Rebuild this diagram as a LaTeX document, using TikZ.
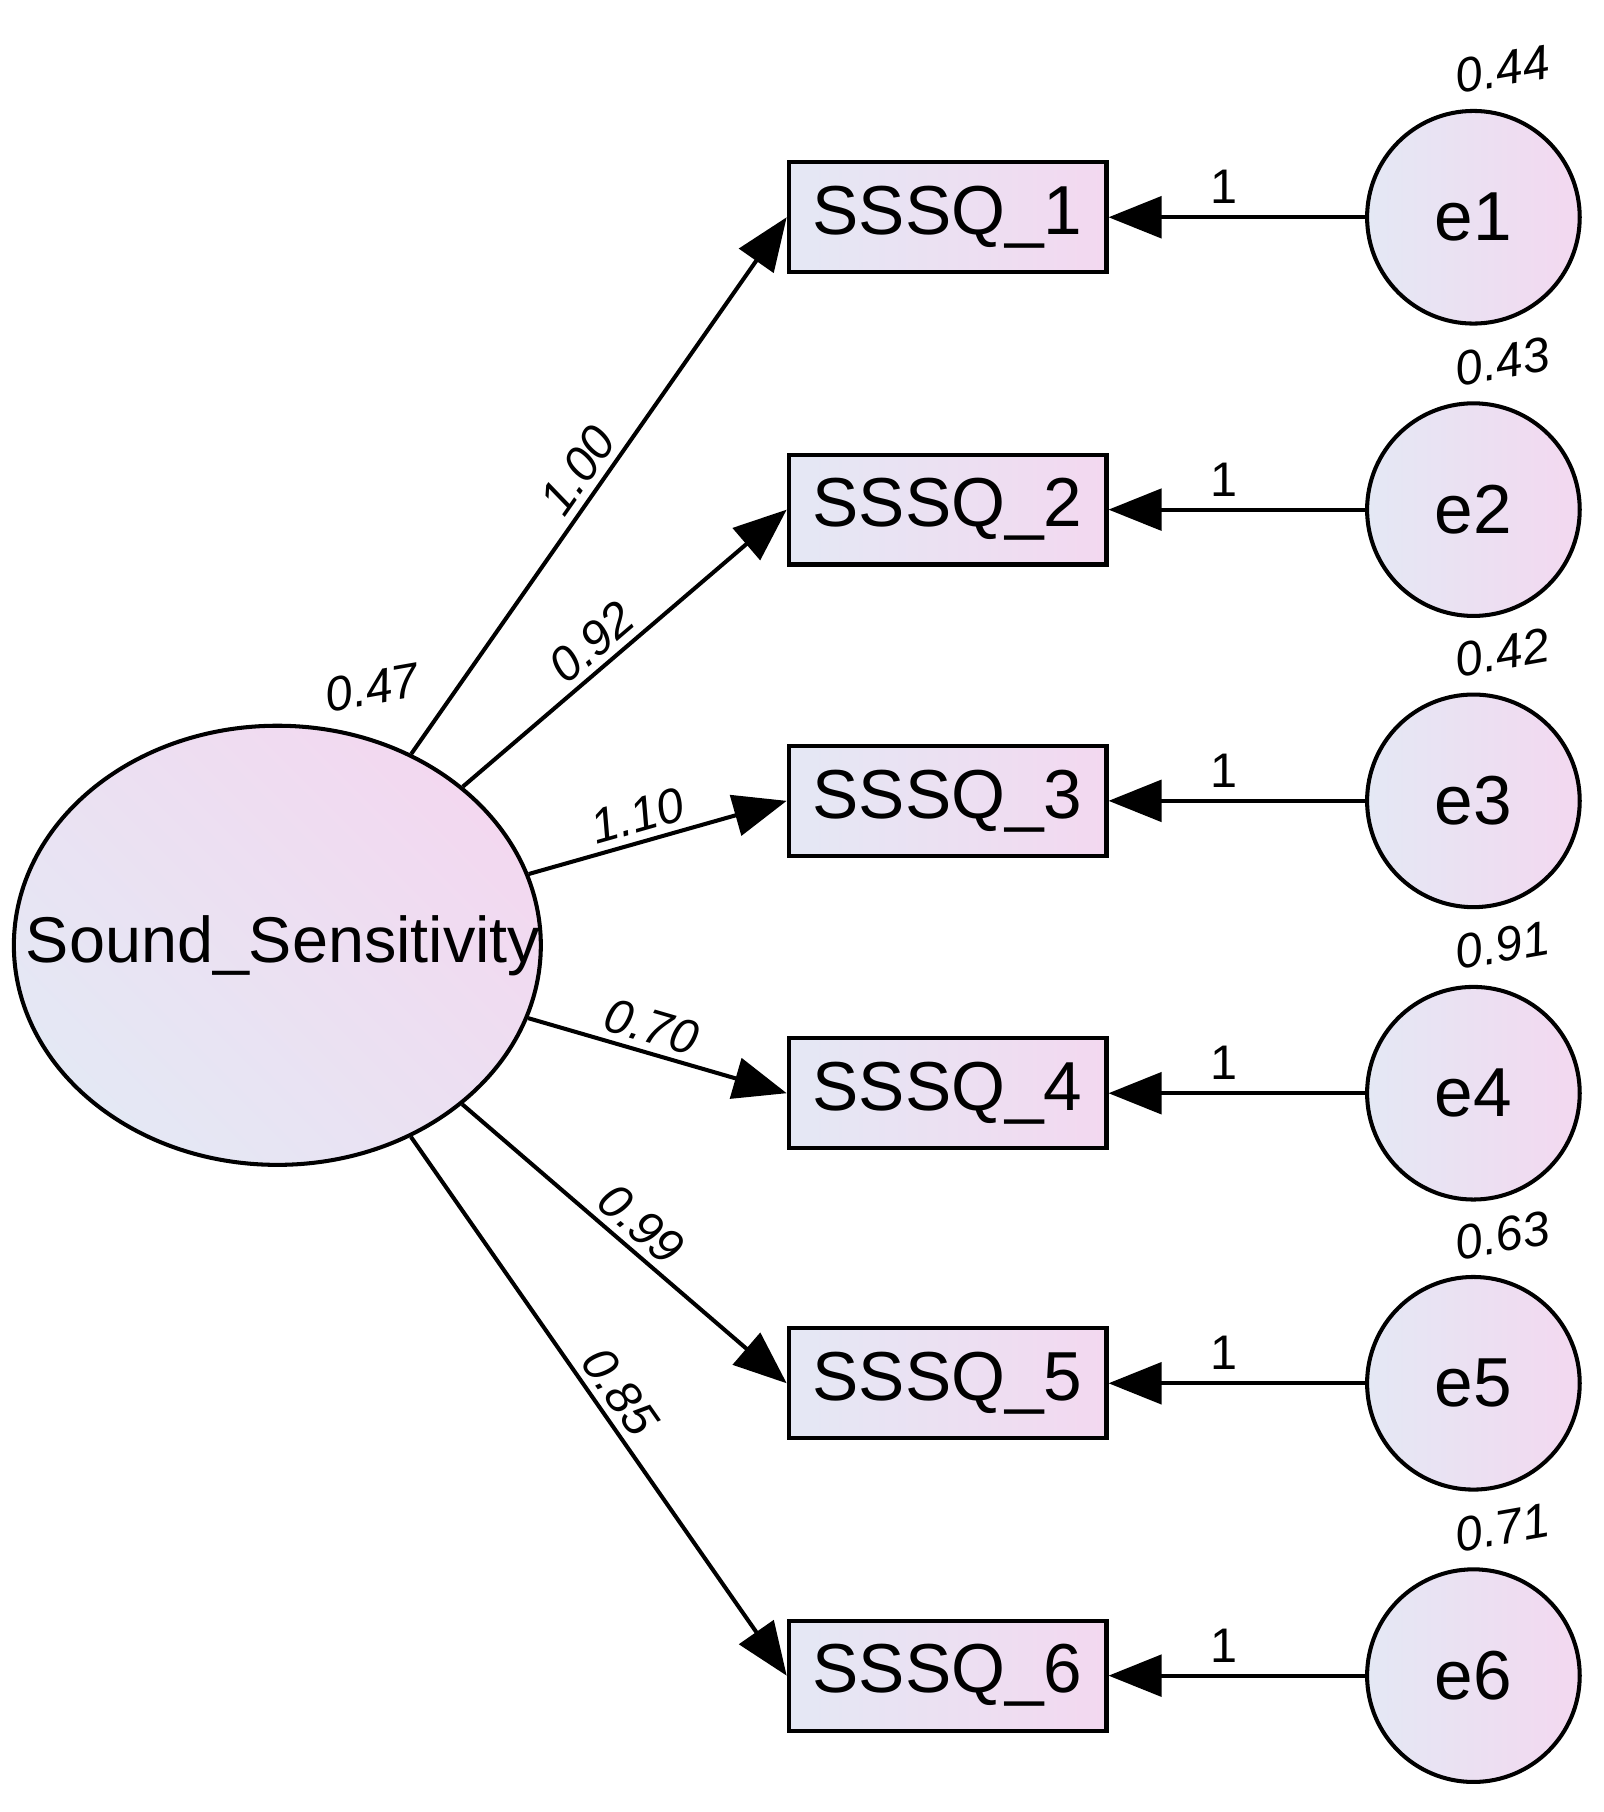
\documentclass[tikz,border=0pt]{standalone}
\usepackage{fontspec}
\setmainfont{Liberation Sans}
\usetikzlibrary{arrows.meta,positioning,shapes.geometric}
\definecolor{lavblue}{HTML}{E4E8F4}
\definecolor{lavpink}{HTML}{F3D8F0}
\tikzset{
	obs/.style={draw, line width=3.5pt, minimum width=275pt, minimum height=95pt, left color=lavblue, right color=lavpink, font=\fontsize{60}{70}\selectfont},
	err/.style={draw, circle, line width=3.5pt, minimum size=184pt, left color=lavblue, right color=lavpink, font=\fontsize{60}{70}\selectfont},
	path/.style={line width=3.5pt, -{Triangle[length=46pt,width=36pt]}},
	est/.style={font=\itshape\fontsize{42}{48}\selectfont, inner sep=6pt},
}
\begin{document}
\begin{tikzpicture}[x=1pt,y=-1pt]
	\useasboundingbox (0,0) rectangle (1388,1568);
	\node[draw, ellipse, line width=3.5pt, minimum width=456pt, minimum height=380pt, left color=lavblue, right color=lavpink, shading angle=135, inner sep=0pt, font=\fontsize{56}{64}\selectfont] (SS) at (240,818) {};
	\node (SSlbl) at (245,818) {\fontsize{56}{64}\selectfont Sound\_Sensitivity};
	\node[est, rotate=10] (v0) at (322,595) {0.47};
	%
	\foreach \i/\y/\ve/\lam/\pp in {1/188/0.44/1.00/0.5, 2/441/0.43/0.92/0.45, 3/693/0.42/1.10/0.45, 4/946/0.91/0.70/0.45, 5/1197/0.63/0.99/0.5, 6/1450/0.71/0.85/0.5}{
		\node[obs] (q\i) at (820,\y) {SSSQ\_\i};
		\node[err] (e\i) at (1275,\y) {e\i};
		\node[est, rotate=10] (v\i) at (1300,\y-128) {\ve};
		\draw[path] (e\i) -- node[above, pos=0.55, inner sep=10pt, font=\fontsize{42}{48}\selectfont] {1} (q\i);
		\draw[path] (SS) -- node[est, sloped, above, pos=\pp] {\lam} (q\i.west);
	}
\end{tikzpicture}
\end{document}
